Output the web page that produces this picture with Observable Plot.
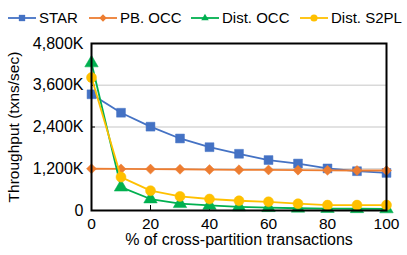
<!DOCTYPE html>
<html><head><meta charset="utf-8">
<script src="https://cdn.jsdelivr.net/npm/d3@7"></script>
<script src="https://cdn.jsdelivr.net/npm/@observablehq/plot@0.6"></script>
<style>
body{margin:0;background:#fff;font-family:"Liberation Sans",Arial,sans-serif;}
#legend{height:30px;}
</style></head><body>
<div id="legend"></div>
<div id="chart"></div>
<script>
const xValues = [0,10,20,30,40,50,60,70,80,90,100];
const seriesNames = ["STAR","PB. OCC","Dist. OCC","Dist. S2PL"];
const star = [3340,2810,2410,2070,1820,1630,1450,1350,1210,1130,1080];
const pbOcc = [1200,1195,1190,1185,1175,1170,1165,1160,1155,1150,1150];
const distOcc = [4240,670,330,195,145,105,80,65,55,50,45];
const distS2pl = [3820,960,570,405,330,280,250,195,155,155,155];
const yTicks = [0,1200,2400,3600,4800];
const xTicks = [0,20,40,60,80,100];
const colors = ["#4472C4","#ED7D31","#00B050","#FFC000"];
const symbols = ["square","diamond2","triangle","circle"];

const vals = [star,pbOcc,distOcc,distS2pl];
const data = [];
seriesNames.forEach((s,i)=>xValues.forEach((x,j)=>data.push({series:s,x,y:vals[i][j]})));

const font = '"Liberation Sans",Arial,sans-serif';
const fmt = d => d===0 ? "0" : d3.format(",")(d)+"K";

const marks = [
  Plot.gridY(yTicks.filter(d=>d>0&&d<4800), {stroke:"#d9d9d9", strokeOpacity:1, strokeWidth:1.5}),
  Plot.axisY(yTicks, {tickFormat:fmt, tickSize:-4, tickPadding:12, fontSize:16, fill:"#000", stroke:"#000", label:null}),
  Plot.axisX(xTicks, {tickSize:-5, tickPadding:12, fontSize:15.5, fill:"#000", stroke:"#000", label:null}),
  Plot.text(["Throughput (txns/sec)"], {frameAnchor:"left", textAnchor:"middle", dx:-77, rotate:-90, fontSize:15.5, fill:"#000"}),
  Plot.text(["% of cross-partition transactions"], {frameAnchor:"bottom", textAnchor:"middle", dy:34, fontSize:16, fill:"#000"}),
];
seriesNames.forEach((s,i)=>{
  const d = data.filter(r=>r.series===s);
  marks.push(Plot.line(d,{x:"x",y:"y",stroke:colors[i],strokeWidth:1.8}));
  marks.push(Plot.dot(d,{x:"x",y:"y",fill:colors[i],stroke:colors[i],strokeWidth:0.5,symbol:()=>symbols[i],r: i===3?5:(i===1?4.5:5)}));
});
marks.push(Plot.frame({stroke:"#000", strokeWidth:2}));

const chart = Plot.plot({
  width:407, height:225,
  marginLeft:91, marginRight:21, marginTop:13, marginBottom:45,
  style:{fontFamily:font, fontSize:"16px", color:"#000", background:"#fff", overflow:"visible"},
  x:{domain:[0,100]},
  y:{domain:[0,4800]},
  marks
});
document.getElementById("chart").appendChild(chart);

// legend
const lg = d3.select("#legend").append("svg").attr("width",407).attr("height",30);
const lx = [8,89,191,300];
seriesNames.forEach((s,i)=>{
  const g = lg.append("g").attr("transform",`translate(${lx[i]},18)`);
  g.append("line").attr("x1",0).attr("x2",28).attr("y1",0).attr("y2",0).attr("stroke",colors[i]).attr("stroke-width",1.8);
  const sym = [d3.symbolSquare, d3.symbolDiamond2, d3.symbolTriangle2, d3.symbolCircle][i];
  const size = [40,36,40,40][i];
  g.append("path").attr("d",d3.symbol(sym,size)()).attr("transform","translate(14,0)").attr("fill",colors[i]);
  g.append("text").attr("x",31).attr("y",0).attr("dy","0.35em").attr("font-size",15).attr("font-family",font).attr("fill","#000").text(s);
});
</script></body></html>
